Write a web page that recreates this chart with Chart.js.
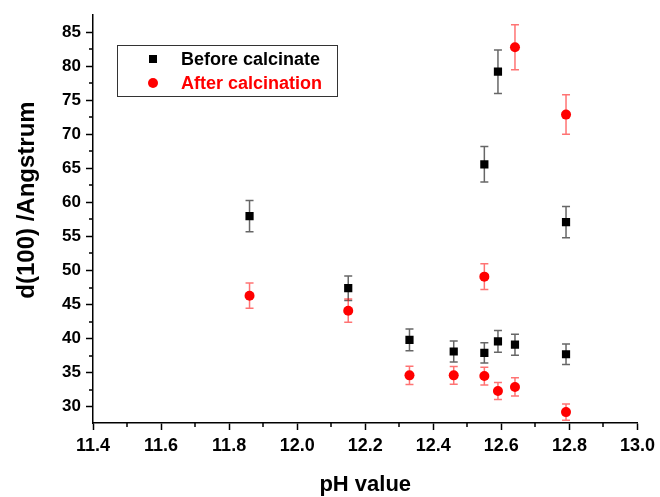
<!DOCTYPE html>
<html>
<head>
<meta charset="utf-8">
<script src="https://cdn.jsdelivr.net/npm/chart.js@4"></script>
<style>
  body { margin: 0; background: #fff; }
  #wrap { width: 660px; height: 497px; position: relative; }
</style>
</head>
<body>
<div id="wrap"><canvas id="chart"></canvas></div>
<script>
// data
const beforePH  = [11.86, 12.15, 12.33, 12.46, 12.55, 12.55, 12.59, 12.59, 12.64, 12.79, 12.79];
const beforeD   = [58.0, 47.4, 39.8, 38.1, 37.9, 65.6, 39.6, 79.2, 39.1, 37.7, 57.1];
const beforeErr = [2.3, 1.8, 1.6, 1.55, 1.5, 2.6, 1.6, 3.2, 1.55, 1.5, 2.3];

const afterPH  = [11.86, 12.15, 12.33, 12.46, 12.55, 12.55, 12.59, 12.64, 12.64, 12.79, 12.79];
const afterD   = [46.3, 44.1, 34.6, 34.6, 34.5, 49.1, 32.3, 32.9, 82.8, 29.2, 72.9];
const afterErr = [1.85, 1.7, 1.35, 1.3, 1.3, 1.9, 1.25, 1.35, 3.3, 1.2, 2.9];

const seriesLabels = ["Before calcinate", "After calcination"];
const yTitle = "d(100) /Angstrum";

const toPoints = (xs, ys) => xs.map((x, i) => ({ x: x, y: ys[i] }));

// error bars, drawn under the markers
const errorBars = {
    id: "errorBars",
    beforeDatasetsDraw(chart) {
        const ctx = chart.ctx;
        const xs = chart.scales.x, ys = chart.scales.y;
        chart.data.datasets.forEach(ds => {
            ctx.save();
            ctx.strokeStyle = ds.errColor;
            ctx.lineWidth = 1.5;
            ds.data.forEach((p, i) => {
                const px = xs.getPixelForValue(p.x);
                const top = ys.getPixelForValue(p.y + ds.err[i]);
                const bot = ys.getPixelForValue(p.y - ds.err[i]);
                ctx.beginPath();
                ctx.moveTo(px, top); ctx.lineTo(px, bot);
                ctx.moveTo(px - 4, top); ctx.lineTo(px + 4, top);
                ctx.moveTo(px - 4, bot); ctx.lineTo(px + 4, bot);
                ctx.stroke();
            });
            ctx.restore();
        });
    }
};

// minor ticks, y title (sits above centre) and boxed legend inside the plot
const extras = {
    id: "extras",
    afterDraw(chart) {
        const ctx = chart.ctx;
        const xs = chart.scales.x, ys = chart.scales.y;
        const area = chart.chartArea;
        ctx.save();
        ctx.strokeStyle = "#000";
        ctx.lineWidth = 1.5;
        ctx.beginPath();
        for (let v = 11.5; v < 13.0; v += 0.2) {
            const px = Math.round(xs.getPixelForValue(v));
            ctx.moveTo(px, area.bottom); ctx.lineTo(px, area.bottom + 4);
        }
        for (let v = 27.5; v < 88; v += 5) {
            const py = Math.round(ys.getPixelForValue(v));
            if (py < area.top || py > area.bottom) continue;
            ctx.moveTo(area.left, py); ctx.lineTo(area.left - 4, py);
        }
        ctx.stroke();

        // y axis title
        ctx.save();
        ctx.translate(27, 200);
        ctx.rotate(-Math.PI / 2);
        ctx.font = "bold 24px Arial, 'Liberation Sans', sans-serif";
        ctx.fillStyle = "#000";
        ctx.textAlign = "center";
        ctx.textBaseline = "middle";
        ctx.fillText(yTitle, 0, 0);
        ctx.restore();

        // legend
        const lx = 117, ly = 45, lw = 220, lh = 51;
        ctx.lineWidth = 1;
        ctx.strokeStyle = "#333";
        ctx.strokeRect(lx + 0.5, ly + 0.5, lw, lh);
        ctx.font = "bold 18px Arial, 'Liberation Sans', sans-serif";
        ctx.textBaseline = "middle";
        ctx.textAlign = "left";
        chart.data.datasets.forEach((ds, i) => {
            const cy = ly + 14 + i * 24;
            ctx.fillStyle = ds.backgroundColor;
            if (ds.pointStyle === "rect") {
                ctx.fillRect(153 - 4, cy - 4, 8, 8);
            } else {
                ctx.beginPath();
                ctx.arc(153, cy, 5, 0, Math.PI * 2);
                ctx.fill();
            }
            ctx.fillStyle = ds.textColor;
            ctx.fillText(ds.label, 181, cy + 1);
        });
        ctx.restore();
    }
};

Chart.defaults.font.family = "Arial, 'Liberation Sans', sans-serif";
Chart.defaults.color = "#000";

new Chart(document.getElementById("chart"), {
    type: "scatter",
    data: {
        datasets: [
            {
                label: seriesLabels[0],
                data: toPoints(beforePH, beforeD),
                err: beforeErr,
                errColor: "rgba(0,0,0,0.6)",
                textColor: "#000",
                pointStyle: "rect",
                pointRadius: 5.8,
                pointHoverRadius: 5.8,
                backgroundColor: "#000",
                borderColor: "#000",
                borderWidth: 0
            },
            {
                label: seriesLabels[1],
                data: toPoints(afterPH, afterD),
                err: afterErr,
                errColor: "rgba(255,0,0,0.55)",
                textColor: "#ff0000",
                pointStyle: "circle",
                pointRadius: 5,
                pointHoverRadius: 5,
                backgroundColor: "#ff0000",
                borderColor: "#ff0000",
                borderWidth: 0
            }
        ]
    },
    options: {
        responsive: true,
        maintainAspectRatio: false,
        animation: false,
        layout: { padding: { top: 15, right: 22, left: 0, bottom: 0 } },
        plugins: {
            legend: { display: false },
            tooltip: { enabled: false }
        },
        scales: {
            x: {
                type: "linear",
                min: 11.4,
                max: 13.0,
                afterFit: s => { s.height = 74; },
                ticks: {
                    stepSize: 0.2,
                    includeBounds: false,
                    padding: 5,
                    font: { size: 18, weight: "bold" },
                    callback: v => v.toFixed(1)
                },
                grid: { drawOnChartArea: false, tickLength: 7, tickWidth: 1.5, tickColor: "#000" },
                border: { color: "#000", width: 1.5 },
                title: {
                    display: true,
                    text: "pH value",
                    font: { size: 22, weight: "bold", lineHeight: 1 },
                    padding: { top: 0, bottom: 1 }
                }
            },
            y: {
                min: 27.6,
                max: 87.5,
                afterFit: s => { s.width = 93; },
                ticks: {
                    stepSize: 5,
                    includeBounds: false,
                    padding: 5,
                    font: { size: 17, weight: "bold" }
                },
                grid: { drawOnChartArea: false, tickLength: 7, tickWidth: 1.5, tickColor: "#000" },
                border: { color: "#000", width: 1.5 }
            }
        }
    },
    plugins: [errorBars, extras]
});
</script>
</body>
</html>
